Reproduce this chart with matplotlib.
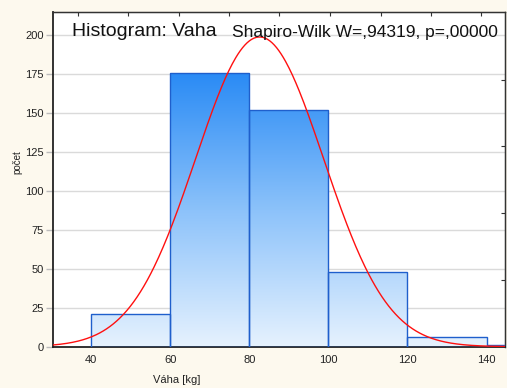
import numpy as np
import matplotlib.pyplot as plt
from matplotlib.patches import Rectangle
from matplotlib.colors import LinearSegmentedColormap

plt.rcParams['font.family'] = ['Liberation Sans', 'DejaVu Sans']

# histogram of weights, 20 kg bins
bin_edges = [40, 60, 80, 100, 120, 140, 160]
counts = [21, 176, 152, 48, 6, 1]
mean_w = 82.6
sd_w = 16.2
x_ticks = [40, 60, 80, 100, 120, 140]
y_ticks = [0, 25, 50, 75, 100, 125, 150, 175, 200]
top_ticks = [36.6, 49.4, 62.1, 74.9, 87.6, 100.4, 113.2, 125.9, 138.7]
right_ticks = [42.9, 85.8, 128.7, 171.6]

bg = '#fdf9ee'
fig = plt.figure(figsize=(5.07, 3.88), dpi=100, facecolor=bg)
ax = fig.add_axes([0.105, 0.1065, 0.892, 0.8625])
ax.set_facecolor('white')

for y in y_ticks[1:]:
    ax.axhline(y, color='#dadada', lw=1, zorder=0)

# vertical blue gradient shared by all bars
cmap = LinearSegmentedColormap.from_list('bars', ['#e6f2fe', '#8cc2fa', '#2a8bf5'])
grad = np.linspace(0, 1, 256).reshape(-1, 1)
n = sum(counts)
width = bin_edges[1] - bin_edges[0]
for left, c in zip(bin_edges[:-1], counts):
    rect = Rectangle((left, 0), width, c, facecolor='none',
                     edgecolor='#1f5fcc', lw=1, zorder=3)
    ax.add_patch(rect)
    im = ax.imshow(grad, cmap=cmap, origin='lower', aspect='auto',
                   extent=(left, left + width, 0, max(counts)), zorder=2)
    im.set_clip_path(rect)

ax.set_xlim(30.4, 144.8)
ax.set_ylim(0, 215)

xs = np.linspace(30.4, 144.8, 400)
ys = n * width / (sd_w * np.sqrt(2 * np.pi)) * np.exp(-0.5 * ((xs - mean_w) / sd_w) ** 2)
ax.plot(xs, ys, color='#ff1010', lw=1, zorder=4)

ax.set_xticks(x_ticks)
ax.set_yticks(y_ticks)
ax.tick_params(axis='x', length=0, pad=6, labelsize=8, colors='#222222')
ax.tick_params(axis='y', length=5, width=1, color='#bbbbbb', pad=2,
               labelsize=8, labelcolor='#222222')
for s in ['left', 'bottom']:
    ax.spines[s].set_color('#222222')
    ax.spines[s].set_linewidth(1.3)
for s in ['top', 'right']:
    ax.spines[s].set_color('#333333')
    ax.spines[s].set_linewidth(1)

top = ax.secondary_xaxis('top')
top.set_xticks(top_ticks)
top.tick_params(direction='in', length=3, color='#333333', labeltop=False)
right = ax.secondary_yaxis('right')
right.set_yticks(right_ticks)
right.tick_params(direction='in', length=3, color='#333333', labelright=False)

ax.set_xlabel('Váha [kg]', fontsize=8, color='#222222')
ax.xaxis.set_label_coords(0.273, -0.085)
ax.set_ylabel('počet', fontsize=7, color='#222222')
ax.yaxis.set_label_coords(-0.068, 0.55)

fig.text(72 / 507, 1 - 31 / 388, 'Histogram: Vaha', fontsize=14,
         va='center', ha='left', color='#111111')
fig.text(232 / 507, 1 - 32 / 388, 'Shapiro-Wilk W=,94319, p=,00000',
         fontsize=12.5, va='center', ha='left', color='#111111')

fig.savefig('out.png', dpi=100, facecolor=bg)
